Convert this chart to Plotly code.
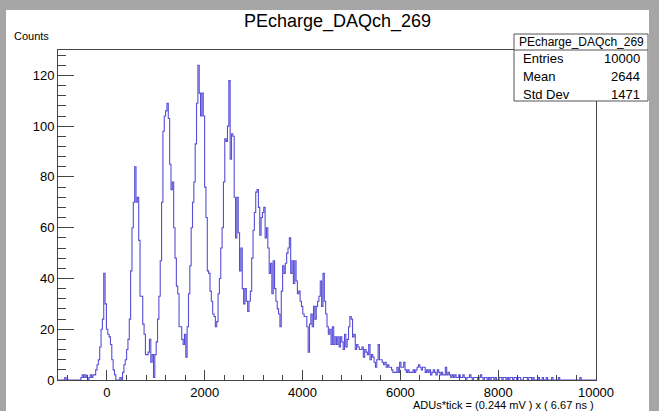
import plotly.graph_objects as go

# ---------------- data ----------------
hist_name = "PEcharge_DAQch_269"
x_lo, x_hi, n_bins = -1000.0, 10000.0, 400
counts = [
    0, 0, 0, 0, 0, 1, 0, 0, 0, 0,
    0, 0, 0, 0, 0, 0, 0, 1, 2, 1,
    2, 1, 0, 1, 2, 1, 2, 2, 4, 6,
    8, 13, 20, 24, 42, 30, 20, 18, 17, 14,
    8, 4, 2, 0, 0, 0, 1, 0, 3, 6,
    8, 12, 16, 24, 43, 60, 70, 84, 70, 72,
    55, 33, 33, 22, 18, 10, 10, 11, 16, 7,
    10, 1, 10, 15, 24, 33, 47, 70, 98, 104,
    106, 109, 103, 85, 75, 78, 60, 48, 37, 34,
    21, 21, 16, 14, 18, 9, 21, 34, 45, 60,
    70, 78, 93, 109, 124, 113, 104, 113, 104, 76,
    64, 43, 42, 35, 31, 26, 25, 21, 23, 34,
    40, 52, 60, 78, 95, 94, 100, 118, 87, 97,
    96, 72, 56, 72, 58, 43, 52, 36, 30, 36,
    31, 27, 31, 35, 48, 59, 66, 74, 75, 68,
    57, 64, 66, 68, 56, 60, 52, 42, 46, 34,
    47, 36, 31, 28, 26, 21, 35, 45, 42, 46,
    50, 52, 56, 42, 47, 38, 47, 39, 34, 35,
    31, 29, 26, 25, 25, 21, 11, 22, 26, 21,
    29, 24, 29, 31, 33, 39, 29, 42, 31, 26,
    21, 18, 20, 14, 21, 14, 17, 14, 17, 13,
    17, 15, 12, 18, 13, 16, 21, 25, 24, 17,
    18, 12, 14, 13, 12, 12, 13, 9, 12, 11,
    10, 14, 8, 10, 9, 7, 5, 8, 14, 8,
    8, 7, 6, 7, 5, 6, 5, 5, 4, 3,
    3, 3, 5, 3, 7, 5, 5, 7, 4, 3,
    4, 3, 3, 3, 4, 3, 4, 5, 6, 5,
    4, 5, 5, 3, 4, 3, 4, 2, 3, 4,
    3, 2, 4, 3, 2, 3, 2, 2, 5, 2,
    3, 2, 1, 2, 1, 2, 1, 1, 2, 1,
    1, 2, 1, 0, 1, 1, 2, 1, 0, 1,
    1, 1, 0, 1, 2, 1, 0, 1, 1, 0,
    1, 0, 1, 1, 0, 1, 0, 0, 1, 1,
    0, 1, 1, 0, 1, 0, 1, 1, 0, 1,
    1, 0, 1, 1, 0, 0, 1, 1, 1, 0,
    1, 1, 0, 1, 0, 0, 0, 1, 0, 0,
    1, 0, 0, 1, 0, 0, 0, 1, 0, 0,
    0, 0, 1, 0, 0, 0, 0, 0, 0, 0,
    0, 0, 0, 0, 0, 0, 0, 0, 1, 0,
    0, 0, 0, 0, 0, 0, 0, 0, 0, 0,
]
stats_labels = ["Entries", "Mean", "Std Dev"]
stats_values = ["10000", "2644", "1471"]
x_title = "ADUs*tick = (0.244 mV ) x ( 6.67 ns )"
y_title = "Counts"
y_max = 130

# ---------------- build step histogram ----------------
bw = (x_hi - x_lo) / n_bins
edges = [x_lo + i * bw for i in range(n_bins + 1)]
xs = edges[:-1] + [edges[-1]]
ys = counts + [counts[-1]]

# ---------------- layout geometry (pixels) ----------------
FW, FH = 659, 411
L, R, T, B = 58, 63, 50, 31
W = FW - L - R
H = FH - T - B


def px(xp):
    return (xp - L) / W


def py(yp):
    return (FH - B - yp) / H


font_fam = "Liberation Sans, Arial, Helvetica, sans-serif"
line_col = "rgb(88,78,214)"

fig = go.Figure()
fig.add_trace(go.Scatter(
    x=xs, y=ys, mode="lines", line=dict(color=line_col, width=1.1, shape="hv"),
    hoverinfo="skip", showlegend=False,
))

shapes = [
    dict(type="rect", xref="paper", yref="paper", x0=px(6), x1=px(649), y0=py(411), y1=py(10),
         fillcolor="white", line=dict(width=0), layer="below"),
    dict(type="rect", xref="paper", yref="paper", x0=px(514), x1=px(648), y0=py(101), y1=py(34),
         fillcolor="white", line=dict(color="#555555", width=1), layer="above"),
    dict(type="line", xref="paper", yref="paper", x0=px(514), x1=px(648), y0=py(50), y1=py(50),
         line=dict(color="#555555", width=1), layer="above"),
]

annotations = [
    dict(text=hist_name, x=px(337), y=py(22), xref="paper", yref="paper", showarrow=False,
         xanchor="center", yanchor="middle", font=dict(size=18, family=font_fam, color="black")),
    dict(text=y_title, x=px(12), y=py(36), xref="paper", yref="paper", showarrow=False,
         xanchor="left", yanchor="middle", font=dict(size=11, family=font_fam, color="black")),
    dict(text=x_title, x=px(596), y=py(405), xref="paper", yref="paper", showarrow=False,
         xanchor="right", yanchor="middle", font=dict(size=11, family=font_fam, color="black")),
    dict(text=hist_name, x=px(581), y=py(42), xref="paper", yref="paper", showarrow=False,
         xanchor="center", yanchor="middle", font=dict(size=12, family=font_fam, color="black")),
]
row_y = [59, 77, 94]
for lab, val, yy in zip(stats_labels, stats_values, row_y):
    annotations.append(dict(text=lab, x=px(521), y=py(yy), xref="paper", yref="paper", showarrow=False,
                            xanchor="left", yanchor="middle",
                            font=dict(size=13, family=font_fam, color="black")))
    annotations.append(dict(text=val, x=px(642), y=py(yy), xref="paper", yref="paper", showarrow=False,
                            xanchor="right", yanchor="middle",
                            font=dict(size=13, family=font_fam, color="black")))

axis_common = dict(showgrid=False, zeroline=False, showline=True, mirror=True,
                   linecolor="#444444", linewidth=1, ticks="inside", tickcolor="#444444",
                   tickfont=dict(size=13, family=font_fam, color="black"))

fig.update_layout(
    width=FW, height=FH,
    margin=dict(l=L, r=R, t=T, b=B, pad=0),
    paper_bgcolor="#a6a6a6", plot_bgcolor="white",
    shapes=shapes, annotations=annotations,
    xaxis=dict(range=[x_lo, x_hi], tick0=0, dtick=2000, ticklen=10, tickwidth=1,
               tickformat="d", ticklabelstandoff=0,
               minor=dict(dtick=400, tick0=0, ticklen=5, ticks="inside", tickcolor="#444444"),
               **axis_common),
    yaxis=dict(range=[0, y_max], tick0=0, dtick=20, ticklen=16, tickwidth=1,
               minor=dict(dtick=4, tick0=0, ticklen=8, ticks="inside", tickcolor="#444444"),
               **axis_common),
    showlegend=False,
)

fig.write_html("out.html")
